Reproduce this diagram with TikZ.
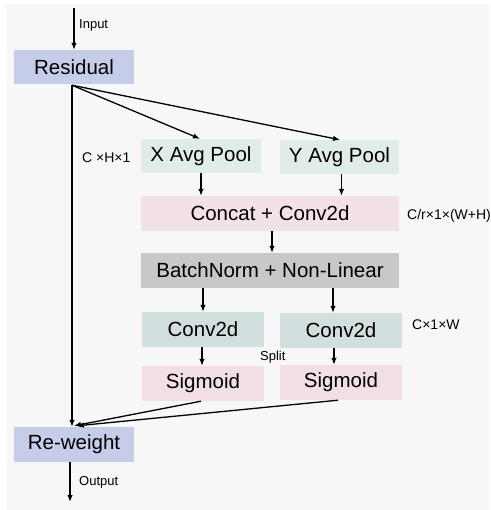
\documentclass[tikz,border=0pt]{standalone}
\usepackage{fontspec}
\setmainfont{Liberation Sans}
\usetikzlibrary{arrows.meta,calc}
\definecolor{bgc}{HTML}{F7F7F7}
\definecolor{blueb}{HTML}{C5CDE9}
\definecolor{poolb}{HTML}{E0ECE8}
\definecolor{pinkb}{HTML}{F2E2E8}
\definecolor{grayb}{HTML}{C8C8CA}
\definecolor{convb}{HTML}{D2DFDF}
\definecolor{sigb}{HTML}{F1DEE6}
\tikzset{
  box/.style={inner sep=0pt, minimum height=35pt, text=black,
    font=\fontsize{20.5}{24}\selectfont},
  lbl/.style={anchor=west, inner sep=0pt, font=\fontsize{13}{15}\selectfont},
  dimlbl/.style={anchor=west, inner sep=0pt, font=\fontsize{14}{16}\selectfont},
  arr/.style={line width=1.3pt, -{Latex[length=7pt,width=5.5pt]}}
}
\begin{document}
\begin{tikzpicture}[x=1pt,y=-1pt]
  \useasboundingbox (0,0) rectangle (490,510);
  \fill[bgc] (6,4) rectangle (490,510);

  % blocks
  \node[box, fill=blueb, minimum width=120pt, minimum height=34pt] (res) at (74,67) {Residual};
  \node[box, fill=poolb, minimum width=120pt, minimum height=34pt] (xavg) at (201,156) {X Avg Pool};
  \node[box, fill=poolb, minimum width=119pt, minimum height=34pt] (yavg) at (339.5,157) {Y Avg Pool};
  \node[box, fill=pinkb, minimum width=258pt] (cat) at (270,213.5) {Concat + Conv2d};
  \node[box, fill=grayb, minimum width=258pt] (bn) at (270,270.5) {BatchNorm + Non-Linear};
  \node[box, fill=convb, minimum width=122pt] (convl) at (203,329.5) {Conv2d};
  \node[box, fill=convb, minimum width=122pt] (convr) at (341,330.5) {Conv2d};
  \node[box, fill=sigb, minimum width=122pt] (sigl) at (203,383.5) {Sigmoid};
  \node[box, fill=sigb, minimum width=122pt] (sigr) at (341,382.5) {Sigmoid};
  \node[box, fill=blueb, minimum width=120pt] (rw) at (74,444.5) {Re-weight};

  % free ends
  \coordinate (in) at (74,8);
  \coordinate (out) at (70,502);
  \coordinate (split) at ($(res.south)+(-2,1)$);

  % connectors
  \draw[arr] (in) -- (res.north);
  \draw[arr] (split) -- ($(xavg.north)+(-1,0)$);
  \draw[arr] (split) -- ($(yavg.north)+(0.5,0)$);
  \draw[arr] (split) -- (split |- rw.north);
  \draw[arr] (xavg.south) -- (xavg.south |- cat.north);
  \draw[arr] ($(yavg.south)+(2,0)$) -- ($(yavg.south |- cat.north)+(2,0)$);
  \draw[arr] ($(cat.south)+(2,0)$) -- ($(bn.north)+(2,0)$);
  \draw[arr] (convl.north |- bn.south) -- (convl.north);
  \draw[arr] ($(convr.north |- bn.south)+(-8,0)$) -- ($(convr.north)+(-8,0)$);
  \draw[arr] ($(convl.south)+(-1,0)$) -- ($(sigl.north)+(-1,0)$);
  \draw[arr] ($(convr.south)+(-7,0)$) -- ($(sigr.north)+(-7,0)$);
  \draw[arr] ($(sigl.south)+(-2,0)$) -- ($(rw.north)+(0,-1)$);
  \draw[arr] ($(sigr.south)+(-3,0)$) -- ($(rw.north)+(3,-1)$);
  \draw[arr] ($(rw.south)+(-4,0)$) -- (out);

  % labels
  \node[lbl] (lin) at (79,25) {Input};
  \node[lbl] (lout) at (79,482) {Output};
  \node[dimlbl] (lchw) at (82,158) {C ×H×1};
  \node[dimlbl] (lcr) at (407,216) {C/r×1×(W+H)};
  \node[dimlbl] (lcw) at (412,325) {C×1×W};
  \node[lbl] (lsplit) at (260,357) {Split};
\end{tikzpicture}
\end{document}
